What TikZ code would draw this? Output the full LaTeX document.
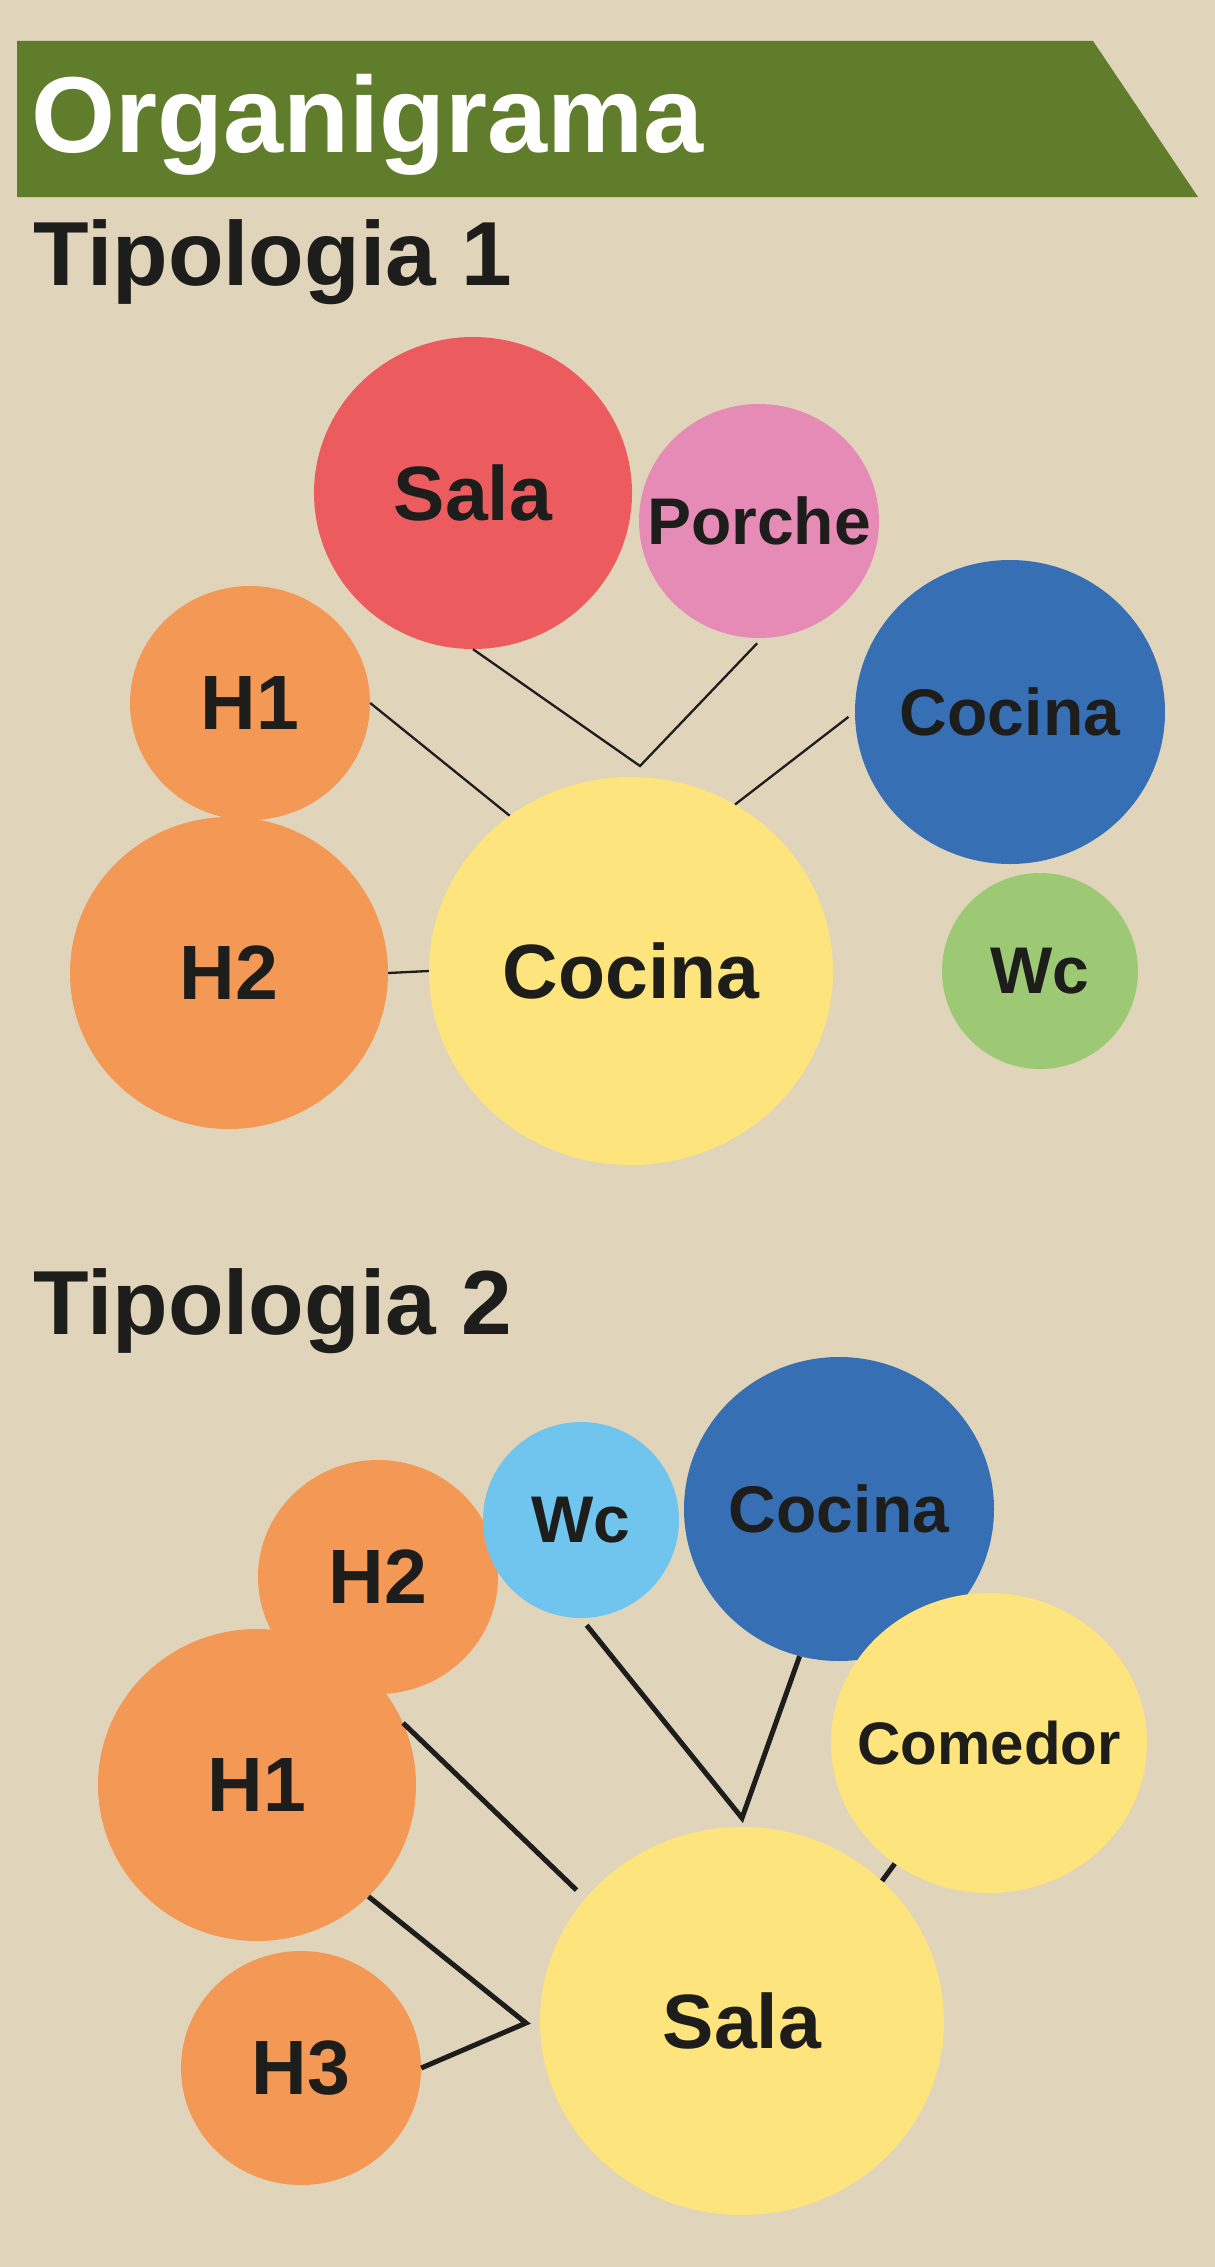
\documentclass[tikz,border=0pt]{standalone}
\usepackage{fontspec}
\setmainfont{Liberation Sans}
\usetikzlibrary{shapes.geometric}
\definecolor{paper}{HTML}{E0D5BA}
\definecolor{banner}{HTML}{607D2C}
\definecolor{ink}{HTML}{1D1D1B}
\definecolor{salared}{HTML}{EC5C5F}
\definecolor{porchepink}{HTML}{E68BB5}
\definecolor{roomorange}{HTML}{F49855}
\definecolor{roomblue}{HTML}{376FB5}
\definecolor{roomyellow}{HTML}{FEE47C}
\definecolor{wcgreen}{HTML}{9DC974}
\definecolor{wcblue}{HTML}{70C5EE}
\newcommand\labbig{\fontsize{77}{80}\selectfont\bfseries}
\newcommand\labsmall{\fontsize{66}{70}\selectfont\bfseries}
\newcommand\labtiny{\fontsize{60}{64}\selectfont\bfseries}
\tikzset{room/.style 2 args={ellipse,draw=none,inner sep=0pt,minimum width=#1,minimum height=#2},
	big/.style={label={[font=\labbig,text=ink,inner sep=0pt]center:#1}},
	small/.style={label={[font=\labsmall,text=ink,inner sep=0pt]center:#1}},
	tiny/.style={label={[font=\labtiny,text=ink,inner sep=0pt]center:#1}},
	heading/.style={anchor=base west,inner sep=0pt,text=ink,font=\fontsize{91}{94}\selectfont\bfseries},
	link/.style={draw=ink,line width=2.3pt},
	boldlink/.style={draw=ink,line width=5pt}}

\begin{document}
\begin{tikzpicture}
	[x=1pt,y=-1pt]

	\fill[paper] (0,0) rectangle (1215,2267);
	\useasboundingbox (0,0) rectangle (1215,2267);

	\fill[banner] (17,41) -- (1093,41) -- (1198,197) -- (17,197) -- cycle;
	\node [anchor=base west,inner sep=0pt,text=white,font=\fontsize{108}{110}\selectfont\bfseries] (title) at (31,152) {Organigrama};

	\node [heading] (tipo1) at (33,285) {Tipologia 1};

	\node [room={318}{312},fill=salared,big=Sala] (t1sala) at (473,493) {};
	\node [room={240}{234},fill=porchepink,small=Porche] (t1porche) at (759,521) {};
	\node [room={240}{234},fill=roomorange,big=H1] (t1hab1) at (250,703) {};
	\node [room={310}{304},fill=roomblue,small=Cocina] (t1cocinaazul) at (1010,712) {};
	\node [room={318}{312},fill=roomorange,big=H2] (t1hab2) at (229,973) {};
	\node [room={404}{388},fill=roomyellow,big=Cocina] (t1cocina) at (631,971) {};
	\node [room={196}{196},fill=wcgreen,small=Wc] (t1wc) at (1040,971) {};

	\coordinate (j1) at (640,766);
	\draw [link] (t1hab1.east) -- (t1cocina.128);
	\draw [link,shorten >=7pt] (t1sala.south) -- (j1) -- ([xshift=3pt]t1porche.south);
	\draw [link,shorten <=8pt] (t1cocinaazul.west) -- (t1cocina.58);
	\draw [link] (t1hab2.east) -- (t1cocina.west);

	\node [heading] (tipo2) at (33,1334) {Tipologia 2};

	\node [room={240}{234},fill=roomorange,big=H2] (t2hab2) at (378,1577) {};
	\node [room={318}{312},fill=roomorange,big=H1] (t2hab1) at (257,1785) {};
	\node [room={196}{196},fill=wcblue,small=Wc] (t2wc) at (581,1520) {};
	\node [room={310}{304},fill=roomblue,small=Cocina] (t2cocina) at (839,1509) {};
	\node [room={316}{300},fill=roomyellow,tiny=Comedor] (t2comedor) at (989,1743) {};
	\node [room={240}{234},fill=roomorange,big=H3] (t2hab3) at (301,2068) {};
	\node [room={404}{388},fill=roomyellow,big=Sala] (t2sala) at (742,2021) {};

	\coordinate (j2) at (742,1818);
	\coordinate (j3) at (526,2023);
	\draw [boldlink,shorten >=12pt] (t2hab1.23) -- (t2sala.142);
	\draw [boldlink,shorten <=9pt] (t2wc.south) -- (j2) -- (t2cocina.255);
	\draw [boldlink] (t2comedor.232) -- (t2sala.45);
	\draw [boldlink] (t2hab1.315) -- (j3) -- (t2hab3.east);
\end{tikzpicture}
\end{document}
